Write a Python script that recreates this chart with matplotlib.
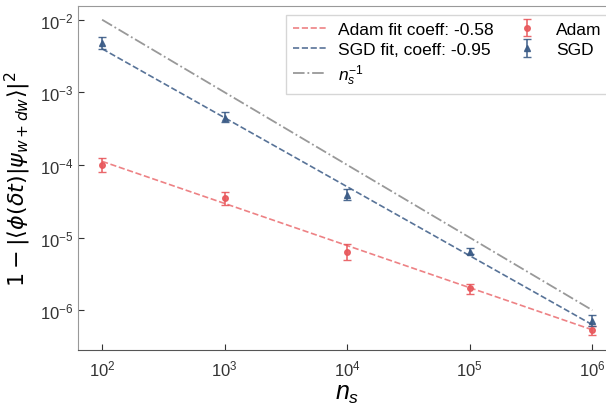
import matplotlib.pyplot as plt
import numpy as np

plt.rcParams['font.family'] = ['Liberation Sans', 'DejaVu Sans']
plt.rcParams['mathtext.fontset'] = 'custom'
plt.rcParams['mathtext.rm'] = 'Liberation Sans'
plt.rcParams['mathtext.it'] = 'Liberation Sans:italic'

ns = np.array([1e2, 1e3, 1e4, 1e5, 1e6])

adam = np.array([1.0e-4, 3.5e-5, 6.4e-6, 2.0e-6, 5.3e-7])
adam_lo = np.array([2.0e-5, 7e-6, 1.5e-6, 3e-7, 7e-8])
adam_hi = np.array([2.5e-5, 8e-6, 1.7e-6, 3e-7, 8e-8])

sgd = np.array([4.8e-3, 4.5e-4, 3.9e-5, 6.4e-6, 7.0e-7])
sgd_lo = np.array([8e-4, 6e-5, 6e-6, 5e-7, 1e-7])
sgd_hi = np.array([1.0e-3, 8e-5, 7e-6, 7e-7, 1.5e-7])

adam_coef, adam_logamp = -0.58, -2.79
sgd_coef, sgd_logamp = -0.95, -0.50

red = '#e8585c'
blue = '#3b5b86'

fig = plt.figure(figsize=(6.06, 4.06), dpi=100)
ax = fig.add_axes([0.128, 0.135, 0.89, 0.848])

ax.plot(ns, 10**adam_logamp * ns**adam_coef, '--', color=red, alpha=0.75, lw=1.2,
        label='Adam fit coeff: -0.58')
ax.plot(ns, 10**sgd_logamp * ns**sgd_coef, '--', color=blue, alpha=0.85, lw=1.2,
        label='SGD fit, coeff: -0.95')
ax.plot(ns, 1.0 / ns, '-.', color='#999999', lw=1.3, label='$n_s^{-1}$')
ax.errorbar(ns, adam, yerr=[adam_lo, adam_hi], fmt='o', color=red, ms=4,
            capsize=3, elinewidth=1.2, alpha=0.9, label='Adam')
ax.errorbar(ns, sgd, yerr=[sgd_lo, sgd_hi], fmt='^', color=blue, ms=4.5,
            capsize=3, elinewidth=1.2, alpha=0.9, label='SGD')

ax.set_xscale('log')
ax.set_yscale('log')
ax.set_xlim(10**1.8, 10**6.2)
ax.set_ylim(10**-6.55, 10**-1.81)
ax.minorticks_off()
ax.tick_params(direction='in', length=4, labelsize=12, colors='#333333', pad=3)
ax.tick_params(axis='x', pad=6)
for side in ['left', 'top', 'right']:
    ax.spines[side].set_color('#999999')
ax.spines['bottom'].set_color('#555555')

ax.set_xlabel('$n_s$', fontsize=18, labelpad=2)
ax.set_ylabel(r'$1 - |\langle\phi(\delta t)|\psi_{w+dw}\rangle|^2$', fontsize=16,
              math_fontfamily='dejavusans', labelpad=5)

leg = ax.legend(ncol=2, loc='upper right', fontsize=12.5, frameon=True,
                fancybox=False, columnspacing=1.0, handlelength=1.9,
                handletextpad=0.7, labelspacing=0.3)
leg.get_frame().set_edgecolor('#cccccc')

fig.savefig('out.png', dpi=100)
